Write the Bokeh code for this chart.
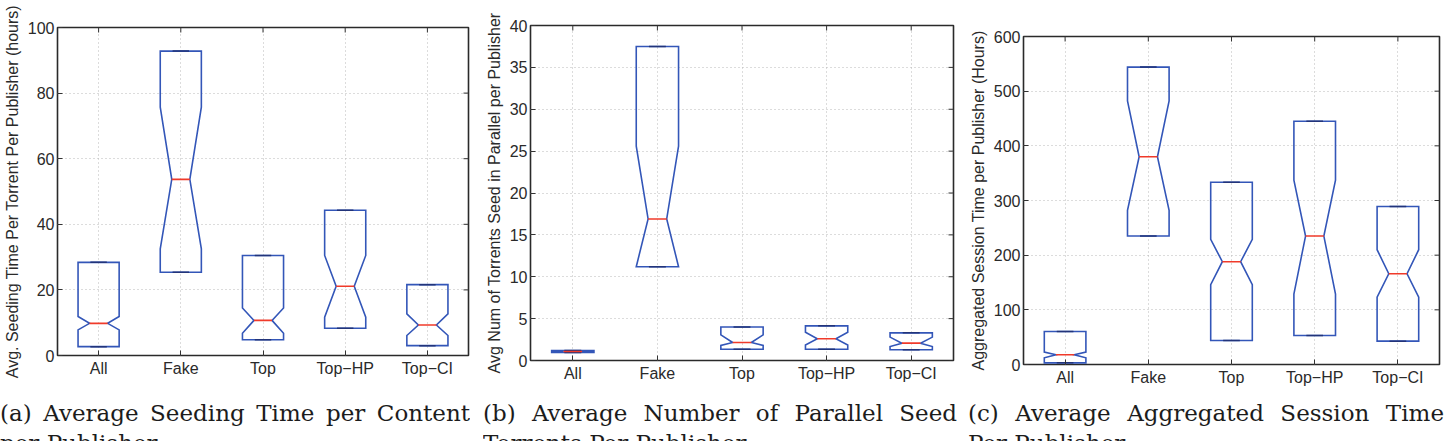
import numpy as np
from bokeh.plotting import figure
from bokeh.models import FixedTicker, Range1d, Div
from bokeh.layouts import row, column
from bokeh.embed import file_html
from bokeh.resources import INLINE

categories = ["All", "Fake", "Top", "Top\u2212HP", "Top\u2212CI"]

# (a) Average seeding time per torrent per publisher (hours)
a_q1 = [2.7, 25.4, 4.8, 8.3, 3.0]
a_q3 = [28.4, 92.8, 30.5, 44.3, 21.6]
a_med = [9.8, 53.7, 10.7, 21.1, 9.3]
a_nlo = [7.8, 32.5, 6.8, 11.7, 6.1]
a_nhi = [11.9, 75.7, 14.5, 30.5, 12.7]
a_ticks = [0, 20, 40, 60, 80, 100]

# (b) Avg num of torrents seeded in parallel per publisher
b_q1 = [0.95, 11.2, 1.35, 1.35, 1.28]
b_q3 = [1.2, 37.5, 4.0, 4.14, 3.3]
b_med = [1.07, 16.9, 2.15, 2.59, 2.07]
b_nlo = [1.0, 11.2, 1.8, 1.85, 1.67]
b_nhi = [1.15, 25.6, 3.06, 3.38, 2.79]
b_ticks = [0, 5, 10, 15, 20, 25, 30, 35, 40]

# (c) Aggregated session time per publisher (hours)
c_q1 = [3, 235, 44, 53, 42.7]
c_q3 = [60.4, 544, 333.5, 445, 289]
c_med = [17.7, 380, 188, 235, 166]
c_nlo = [12.2, 282, 146, 129, 123]
c_nhi = [22.6, 482, 229, 337, 210]
c_ticks = [0, 100, 200, 300, 400, 500, 600]

BOX = "#3356b8"
MED = "#f03a2a"
CAP = "#22347a"
TXT = "#2a2a2a"
TICK = "#333333"
HW, NW = 0.25, 0.11


def style_axis(ax, ticker):
    ax.ticker = ticker
    ax.axis_line_color = None
    ax.major_tick_in = 5
    ax.major_tick_out = 0
    ax.major_tick_line_color = TICK
    ax.major_tick_line_width = 1
    ax.minor_tick_line_color = None
    ax.major_label_standoff = 3
    ax.major_label_text_font = "Liberation Sans"
    ax.major_label_text_font_size = "16px"
    ax.major_label_text_color = TXT


def panel(q1, q3, med, nlo, nhi, ticks, ylabel, w, bl, br, bt, bb):
    p = figure(width=w, height=390, x_range=Range1d(0.5, 5.5),
               y_range=Range1d(ticks[0], ticks[-1]),
               output_backend="svg", toolbar_location=None,
               min_border_left=bl, min_border_right=br,
               min_border_top=bt, min_border_bottom=bb)
    p.outline_line_color = "#2a2a2a"
    p.outline_line_width = 1.6
    p.background_fill_color = "white"
    p.border_fill_color = "white"
    pos = np.arange(1, len(categories) + 1)
    xt = FixedTicker(ticks=list(pos))
    yt = FixedTicker(ticks=ticks)
    style_axis(p.xaxis[0], xt)
    p.xaxis[0].major_label_standoff = 4
    p.xaxis[0].major_label_overrides = {int(i): c for i, c in zip(pos, categories)}
    style_axis(p.yaxis[0], yt)
    p.yaxis[0].axis_label = ylabel
    p.yaxis[0].axis_label_text_font = "Liberation Sans"
    p.yaxis[0].axis_label_text_font_size = "16px"
    p.yaxis[0].axis_label_text_font_style = "normal"
    p.yaxis[0].axis_label_text_color = TXT
    p.yaxis[0].axis_label_standoff = 4
    p.xgrid.ticker = xt
    p.ygrid.ticker = yt
    for g in (p.xgrid[0], p.ygrid[0]):
        g.grid_line_color = "#b8b8b8"
        g.grid_line_dash = "1 3"
        g.grid_line_width = 1

    # mirrored inward ticks on the top and right frame edges (clipped to frame)
    p.scatter(x=[p.x_range.end] * len(ticks), y=ticks, marker="dash", size=10,
              line_color=TICK, line_width=1)
    p.scatter(x=list(pos), y=[p.y_range.end] * len(pos), marker="dash", size=10,
              angle=np.pi / 2, line_color=TICK, line_width=1)

    xs, ys = [], []
    for x, lo_q, hi_q, m, lo_n, hi_n in zip(pos, q1, q3, med, nlo, nhi):
        xs.append([x - HW, x + HW, x + HW, x + NW, x + HW, x + HW,
                   x - HW, x - HW, x - NW, x - HW])
        ys.append([lo_q, lo_q, lo_n, m, hi_n, hi_q, hi_q, hi_n, m, lo_n])
    p.patches(xs, ys, fill_color=None, line_color=BOX, line_width=1.6,
              line_join="miter")
    p.segment(x0=pos - 0.1, x1=pos + 0.1, y0=q1, y1=q1, line_color=CAP, line_width=1.5)
    p.segment(x0=pos - 0.1, x1=pos + 0.1, y0=q3, y1=q3, line_color=CAP, line_width=1.5)
    p.segment(x0=pos - NW, x1=pos + NW, y0=med, y1=med, line_color=MED, line_width=1.6)
    return p


def caption(line1, line2, width, left):
    html = ('<div style="font-family:\'DejaVu Serif\',serif;font-size:23px;'
            'line-height:30px;color:#1c1c1c;width:%dpx;">'
            '<div style="text-align:justify;text-align-last:justify;">%s</div>'
            '<div>%s</div></div>') % (width, line1, line2)
    return Div(text=html, width=width, height=43, margin=(8, 0, 0, left),
               styles={"overflow": "hidden"})


pa = panel(a_q1, a_q3, a_med, a_nlo, a_nhi, a_ticks,
           "Avg. Seeding Time Per Torrent Per Publisher (hours)", 480, 53, 12, 27, 35)
pb = panel(b_q1, b_q3, b_med, b_nlo, b_nhi, b_ticks,
           "Avg Num of Torrents Seed in Parallel per Publisher", 482, 50, 9, 25, 30)
pc = panel(c_q1, c_q3, c_med, c_nlo, c_nhi, c_ticks,
           "Aggregated Session Time per Publisher (Hours)", 484, 61, 7, 36, 26)

ca = caption("(a) Average Seeding Time per Content", "per Publisher", 470, 0)
cb = caption("(b) Average Number of Parallel Seed", "Torrents Per Publisher", 474, 3)
cc = caption("(c) Average Aggregated Session Time", "Per Publisher", 476, 6)

layout = row(column(pa, ca), column(pb, cb), column(pc, cc))

open("out.html", "w").write(file_html(layout, INLINE))
